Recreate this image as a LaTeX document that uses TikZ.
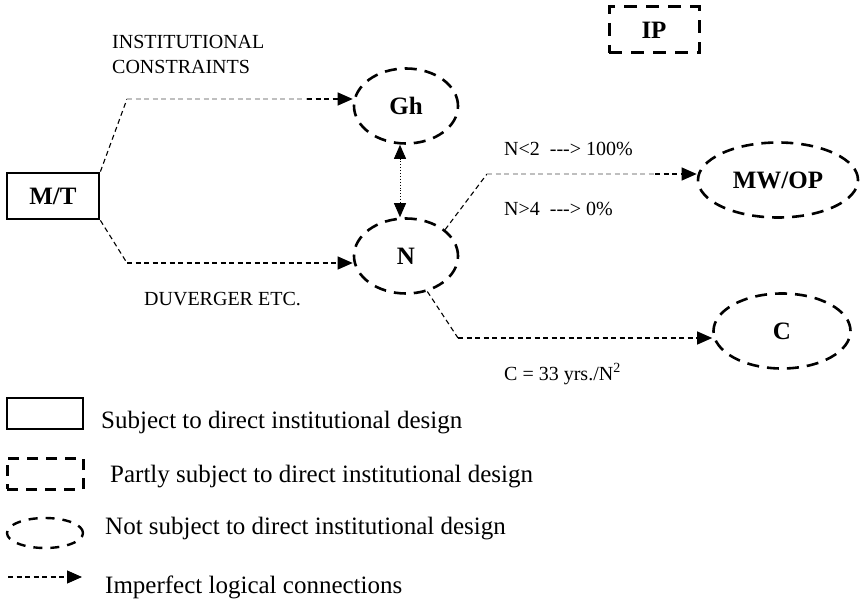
\documentclass[tikz,border=0pt]{standalone}
\usepackage{fontspec}
\setmainfont{Liberation Serif}
\usetikzlibrary{arrows.meta,shapes.geometric}
\begin{document}
\begin{tikzpicture}[x=1pt,y=-1pt,
  lbl/.style={font=\fontsize{20}{22}\selectfont, inner sep=0pt, anchor=base west},
  leg/.style={font=\fontsize{25}{28}\selectfont, inner sep=0pt, anchor=base west},
  big/.style={font=\fontsize{25}{28}\selectfont\bfseries},
  oval/.style={ellipse, draw, line width=2.6pt, dash pattern=on 12pt off 8pt, inner sep=0pt, big},
  conn/.style={line width=1.1pt, dash pattern=on 5pt off 3.5pt},
  faint/.style={conn, draw=black!25},
  tip/.style={-{Triangle[length=15pt,width=13pt]}},
  dtip/.style={{Triangle[length=14pt,width=12pt]}-{Triangle[length=14pt,width=12pt]}},
]
\useasboundingbox (0,0) rectangle (860,602);

% main nodes
\node[draw, line width=2.8pt, minimum width=92pt, minimum height=46pt, inner sep=0pt, big] (mt) at (53,196) {M/T};
\node[oval, minimum width=104pt, minimum height=75pt] (gh) at (406,106) {Gh};
\node[oval, minimum width=104pt, minimum height=75pt] (n) at (406,256) {N};
\node[oval, minimum width=160pt, minimum height=75pt] (mw) at (778,180) {MW/OP};
\node[oval, minimum width=137pt, minimum height=75pt] (c) at (782,331) {C};
\node[draw, line width=3pt, dash pattern=on 13pt off 9pt, minimum width=90pt, minimum height=46pt, inner sep=0pt, big] (ip) at (654,30) {IP};

% connectors
\coordinate (c1) at (127,99);
\coordinate (c1m) at (307,99);
\draw[conn] (mt.north east) -- (c1);
\draw[faint] (c1) -- (c1m);
\draw[conn,tip] (c1m) -- (gh.west |- c1);

\coordinate (c2) at (127,263);
\draw[conn] (mt.south east) -- (c2);
\draw[conn,tip] (c2) -- (n.west |- c2);

\draw[line width=0.9pt, dotted, dtip] ([xshift=-6pt]gh.south) -- ([xshift=-6pt]n.north);

\coordinate (c3) at (487,174);
\coordinate (c3m) at (655,174);
\draw[conn] (n.34) -- (c3);
\draw[faint] (c3) -- (c3m);
\draw[conn,tip] (c3m) -- (mw.west |- c3);

\coordinate (c4) at (458,338);
\draw[conn] (n.-59) -- (c4);
\draw[conn,tip] (c4) -- (c.west |- c4);

% labels
\node[lbl] (t1) at (112,49) {INSTITUTIONAL};
\node[lbl] (t2) at (112,74) {CONSTRAINTS};
\node[lbl] (t3) at (144,305) {DUVERGER ETC.};
\node[lbl] (t4) at (504,155) {N<2\ \ -{}-{}->\ 100\%};
\node[lbl] (t5) at (504,215) {N>4\ \ -{}-{}->\ 0\%};
\node[lbl] (t6) at (504,380) {C = 33 yrs./N\textsuperscript{2}};

% legend
\node[draw, line width=2.2pt, minimum width=76pt, minimum height=31pt, inner sep=0pt] (l1) at (45,413.5) {};
\node[leg] (lt1) at (101,428) {Subject to direct institutional design};
\node[draw, line width=3pt, dash pattern=on 11pt off 8pt, minimum width=76pt, minimum height=31pt, inner sep=0pt] (l2) at (45,473.5) {};
\node[leg] (lt2) at (110,482) {Partly subject to direct institutional design};
\node[ellipse, draw, line width=2.4pt, dash pattern=on 9pt off 8pt, minimum width=76pt, minimum height=30pt, inner sep=0pt] (l3) at (45,533) {};
\node[leg] (lt3) at (105,534) {Not subject to direct institutional design};
\coordinate (a1) at (8,577);
\coordinate (a2) at (82,577);
\draw[conn,tip] (a1) -- (a2);
\node[leg] (lt4) at (105,593) {Imperfect logical connections};
\end{tikzpicture}
\end{document}
